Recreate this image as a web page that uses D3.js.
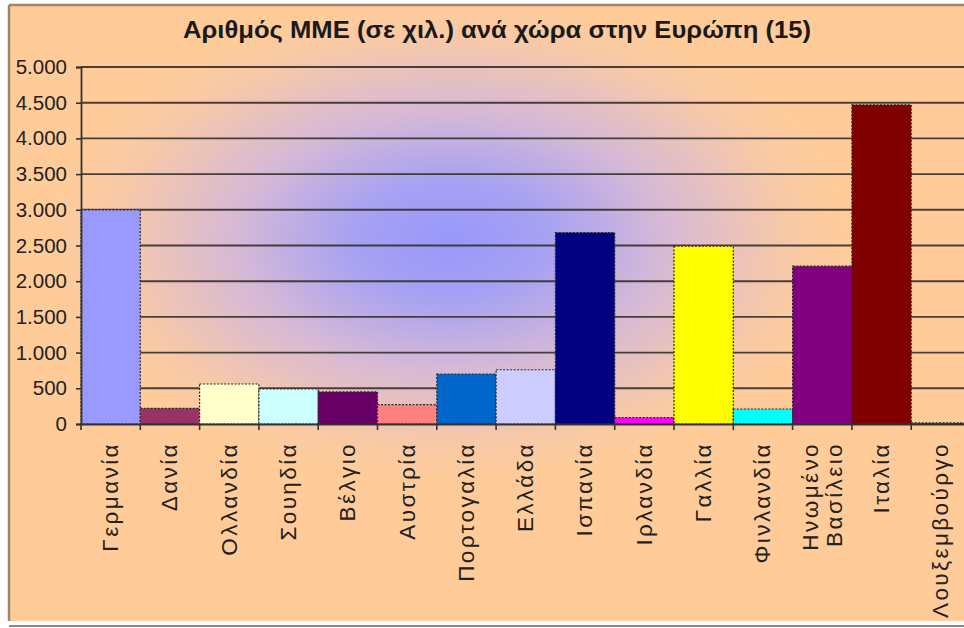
<!DOCTYPE html>
<html>
<head>
<meta charset="utf-8">
<script src="https://cdn.jsdelivr.net/npm/d3@7"></script>
<style>
  html, body { margin: 0; padding: 0; background: #ffffff; }
  svg { display: block; font-family: "Liberation Sans", Arial, sans-serif; }
</style>
</head>
<body>
<svg id="chart" width="964" height="628"></svg>
<script>
// Number of SMEs (thousands) per country, EU-15
const categories = ["Γερμανία", "Δανία", "Ολλανδία", "Σουηδία", "Βέλγιο", "Αυστρία",
  "Πορτογαλία", "Ελλάδα", "Ισπανία", "Ιρλανδία", "Γαλλία", "Φινλανδία",
  "Ηνωμένο Βασίλειο", "Ιταλία", "Λουξεμβούργο"];
const values = [3000, 220, 560, 490, 450, 270, 700, 760, 2680, 90, 2490, 210, 2210, 4470, 15];
const barColors = ["#9999FF", "#993366", "#FFFFCC", "#CCFFFF", "#660066", "#FF8080",
  "#0066CC", "#CCCCFF", "#000080", "#FF00FF", "#FFFF00", "#00FFFF",
  "#800080", "#800000", "#008080"];
const yTicks = [0, 500, 1000, 1500, 2000, 2500, 3000, 3500, 4000, 4500, 5000];
const title = "Αριθμός ΜΜΕ (σε χιλ.) ανά χώρα στην Ευρώπη (15)";

const svg = d3.select("#chart");
const W = 964, H = 628;

// chart frame area (extends past the right edge)
const frame = { x: 9, y: 5, w: 1000, h: 616 };
const plot = { left: 81, top: 67, bottom: 424, right: 81 + 15 * 59.3 };

const locale = d3.formatLocale({ decimal: ",", thousands: ".", grouping: [3], currency: ["", "€"] });
const fmt = locale.format(",d");

// background gradient
const defs = svg.append("defs");
const grad = defs.append("radialGradient")
  .attr("id", "bg").attr("gradientUnits", "userSpaceOnUse")
  .attr("cx", 450).attr("cy", 240).attr("r", 400)
  .attr("gradientTransform", "translate(450,240) scale(1,0.6) translate(-450,-240)");
grad.append("stop").attr("offset", 0).attr("stop-color", "#9898fb");
grad.append("stop").attr("offset", 0.25).attr("stop-color", "#a8a2f2");
grad.append("stop").attr("offset", 0.55).attr("stop-color", "#d8bad4");
grad.append("stop").attr("offset", 0.85).attr("stop-color", "#f8c9a6");
grad.append("stop").attr("offset", 1).attr("stop-color", "#FFCC99");

// outer white and bottom rule
svg.append("rect").attr("x", 0).attr("y", 0).attr("width", W).attr("height", H).attr("fill", "#ffffff");
svg.append("rect").attr("x", frame.x).attr("y", frame.y).attr("width", frame.w).attr("height", frame.h)
  .attr("fill", "#FFCC99");
svg.append("rect").attr("x", frame.x).attr("y", frame.y).attr("width", frame.w).attr("height", frame.h)
  .attr("fill", "url(#bg)");
svg.append("line").attr("x1", frame.x).attr("x2", W).attr("y1", frame.y).attr("y2", frame.y)
  .attr("stroke", "#a08468").attr("stroke-width", 2.5);
svg.append("line").attr("x1", frame.x).attr("x2", frame.x).attr("y1", frame.y).attr("y2", frame.y + frame.h)
  .attr("stroke", "#a08468").attr("stroke-width", 2.5);
svg.append("line").attr("x1", frame.x).attr("x2", W).attr("y1", 626).attr("y2", 626)
  .attr("stroke", "#8a8a8a").attr("stroke-width", 2);

// scales
const x = d3.scaleBand().domain(categories).range([plot.left, plot.right]).padding(0);
const y = d3.scaleLinear().domain([0, 5000]).range([plot.bottom, plot.top]);

// gridlines
svg.append("g").selectAll("line").data(yTicks.filter(d => d > 0)).join("line")
  .attr("x1", plot.left).attr("x2", W)
  .attr("y1", d => y(d)).attr("y2", d => y(d))
  .attr("stroke", "#35302c").attr("stroke-opacity", 0.9).attr("stroke-width", 1.9);

// bars
svg.append("g").selectAll("rect").data(values).join("rect")
  .attr("x", (d, i) => x(categories[i]))
  .attr("y", d => y(d))
  .attr("width", x.bandwidth())
  .attr("height", d => y(0) - y(d))
  .attr("fill", (d, i) => barColors[i])
  .attr("stroke", "#2a2a2a").attr("stroke-width", 1.2)
  .attr("stroke-dasharray", "2,1.5");

// y axis
const yAxis = svg.append("g").attr("transform", `translate(${plot.left},0)`)
  .call(d3.axisLeft(y).tickValues(yTicks).tickFormat(fmt).tickSize(5).tickPadding(9));
yAxis.select(".domain").attr("stroke", "#333").attr("stroke-width", 1.8);
yAxis.selectAll(".tick line").attr("stroke", "#333").attr("stroke-width", 1.6);
yAxis.selectAll(".tick text").attr("fill", "#222").attr("font-size", 20.5)
  .attr("font-family", "'Liberation Sans', Arial, sans-serif");

// x axis
const xAxis = svg.append("g").attr("transform", `translate(0,${plot.bottom})`)
  .call(d3.axisBottom(x).tickSize(0).tickFormat(""));
xAxis.select(".domain").attr("stroke", "#333").attr("stroke-width", 2);
svg.append("g").selectAll("line").data(categories).join("line")
  .attr("x1", d => x(d)).attr("x2", d => x(d))
  .attr("y1", plot.bottom).attr("y2", plot.bottom + 6)
  .attr("stroke", "#333").attr("stroke-width", 1.6);

// category labels, rotated
const labels = svg.append("g").selectAll("text").data(categories).join("text")
  .attr("transform", d => `translate(${x(d) + x.bandwidth() / 2},442) rotate(-90)`)
  .attr("text-anchor", "end")
  .attr("font-size", 22.5)
  .attr("letter-spacing", 2.4)
  .attr("fill", "#222");
labels.each(function (d) {
  const parts = d.split(" ");
  const t = d3.select(this);
  parts.forEach((p, k) => {
    const off = (k - (parts.length - 1) / 2) * 24;
    t.append("tspan").attr("x", 0).attr("y", off).attr("dy", "0.33em").text(p);
  });
});

// title
svg.append("text")
  .attr("x", 497).attr("y", 38)
  .attr("text-anchor", "middle")
  .attr("font-size", 23).attr("font-weight", "bold")
  .attr("fill", "#1a1a1a")
  .attr("textLength", 628).attr("lengthAdjust", "spacingAndGlyphs")
  .text(title);
</script>
</body>
</html>
